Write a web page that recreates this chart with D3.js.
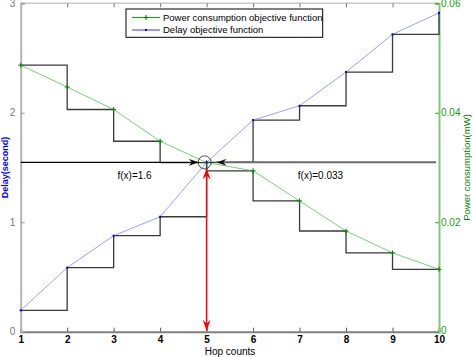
<!DOCTYPE html>
<html>
<head>
<meta charset="utf-8">
<script src="https://cdn.jsdelivr.net/npm/d3@7"></script>
<style>
  html, body { margin: 0; padding: 0; background: #fff; }
  svg text { font-family: "Liberation Sans", Arial, sans-serif; }
</style>
</head>
<body>
<div id="chart"></div>
<script>
// ── Data ────────────────────────────────────────────────────────
const hops        = [1, 2, 3, 4, 5, 6, 7, 8, 9, 10];
const delayVals   = [0.195, 0.585, 0.877, 1.05, 1.547, 1.933, 2.064, 2.372, 2.716, 2.913];   // second
const powerVals   = [0.0487, 0.0447, 0.0406, 0.0348, 0.0309, 0.0294, 0.0239, 0.0184, 0.0144, 0.0114]; // mW
// stair levels drawn under the power curve (one per hop, step-after)
const powerStair  = [0.0487, 0.0406, 0.0348, 0.0309, 0.0294, 0.0239, 0.0184, 0.0144, 0.0114, 0.0114];
const xTicks      = [1, 2, 3, 4, 5, 6, 7, 8, 9, 10];
const leftTicks   = [0, 1, 2, 3];
const rightTicks  = [0, 0.02, 0.04, 0.06];
const rightTickLabels = ["0", "0.02", "0.04", "0.06"];
const crossHop    = 5;
const crossDelay  = 1.547;
const annotLeft   = "f(x)=1.6";
const annotRight  = "f(x)=0.033";
const legendItems = ["Power consumption objective function", "Delay objective function"];

// ── Layout ──────────────────────────────────────────────────────
const W = 473, H = 357;
const margin = { top: 3.3, right: 34, bottom: 25.3, left: 20.7 },
      width  = W - margin.left - margin.right,
      height = H - margin.top - margin.bottom;

const svg = d3.select("#chart").append("svg")
  .attr("width", W).attr("height", H);

const defs = svg.append("defs");
function arrowMarker(id, color, w, h) {
  defs.append("marker")
    .attr("id", id)
    .attr("viewBox", `0 0 ${w} ${h}`)
    .attr("refX", w).attr("refY", h / 2)
    .attr("markerWidth", w).attr("markerHeight", h)
    .attr("markerUnits", "userSpaceOnUse")
    .attr("orient", "auto-start-reverse")
    .append("path")
      .attr("d", `M0,0 L${w},${h/2} L0,${h} L${w*0.35},${h/2} Z`)
      .attr("fill", color);
}
arrowMarker("arrBlack", "#000", 10, 7);
arrowMarker("arrGray", "#111", 10, 7);
arrowMarker("arrRed", "#f00", 11, 8);

const g = svg.append("g").attr("transform", `translate(${margin.left},${margin.top})`);

const x  = d3.scaleLinear().domain([1, 10]).range([0, width]);
const yL = d3.scaleLinear().domain([0, 3]).range([height, 0]);
const yR = d3.scaleLinear().domain([0, 0.06]).range([height, 0]);

// ── Frame & axes ────────────────────────────────────────────────
g.append("line").attr("x1", 0).attr("x2", width).attr("y1", 0).attr("y2", 0)
  .attr("stroke", "#c8c8c8").attr("stroke-width", 1.5);

const xBottom = g.append("g").attr("transform", `translate(0,${height})`)
  .call(d3.axisBottom(x).tickValues(xTicks).tickSize(-4).tickPadding(4.5).tickFormat(d3.format("d")));
xBottom.select(".domain").attr("stroke", "#808080").attr("stroke-width", 2);
xBottom.selectAll(".tick line").attr("stroke", "#555");
xBottom.selectAll(".tick text").attr("fill", "#000").style("font-size", "10px").style("font-weight", "bold");

const xTop = g.append("g")
  .call(d3.axisTop(x).tickValues(xTicks.slice(1, -1)).tickSize(-4).tickFormat(""));
xTop.select(".domain").remove();
xTop.selectAll(".tick line").attr("stroke", "#777");

const yLeft = g.append("g")
  .call(d3.axisLeft(yL).tickValues(leftTicks).tickSize(-4).tickPadding(5.5).tickFormat(d3.format("d")));
yLeft.select(".domain").attr("stroke", "#b4b4b4").attr("stroke-width", 2);
yLeft.selectAll(".tick line").attr("stroke", "#999");
yLeft.selectAll(".tick text").attr("fill", "#777").style("font-size", "10px");

const yRight = g.append("g").attr("transform", `translate(${width},0)`)
  .call(d3.axisRight(yR).tickValues(rightTicks).tickSize(-4).tickPadding(2).tickFormat((d, i) => rightTickLabels[i]));
yRight.select(".domain").attr("stroke", "#80c880").attr("stroke-width", 2);
yRight.selectAll(".tick line").attr("stroke", "#2a2");
yRight.selectAll(".tick text").attr("fill", "#1a9a1a").style("font-size", "10px");
// the bottom "0" sits just above the "10" hop label
yRight.selectAll(".tick text").filter(d => d === 0).attr("dy", "0.15em");

// ── Stairs ──────────────────────────────────────────────────────
const stair = d3.line().curve(d3.curveStepAfter);
g.append("path")
  .attr("d", stair(hops.map((h, i) => [x(h), yL(delayVals[i])])))
  .attr("fill", "none").attr("stroke", "#3a3a3a").attr("stroke-width", 1.3);
g.append("path")
  .attr("d", stair(hops.map((h, i) => [x(h), yR(powerStair[i])])))
  .attr("fill", "none").attr("stroke", "#3a3a3a").attr("stroke-width", 1.3);

// ── Objective curves ────────────────────────────────────────────
const line = d3.line();
g.append("path")
  .attr("d", line(hops.map((h, i) => [x(h), yR(powerVals[i])])))
  .attr("fill", "none").attr("stroke", "#5cbf5c").attr("stroke-width", 0.8);
g.append("path")
  .attr("d", line(hops.map((h, i) => [x(h), yL(delayVals[i])])))
  .attr("fill", "none").attr("stroke", "#8484ff").attr("stroke-width", 0.8);

g.selectAll(".pplus")
  .data(hops)
  .join("path")
    .attr("class", "pplus")
    .attr("d", (h, i) => {
      const cx = x(h), cy = yR(powerVals[i]);
      return `M${cx-2.5},${cy}H${cx+2.5}M${cx},${cy-2.5}V${cy+2.5}`;
    })
    .attr("stroke", "#008000").attr("stroke-width", 1);

g.selectAll(".ddot")
  .data(hops)
  .join("rect")
    .attr("class", "ddot")
    .attr("x", h => x(h) - 1).attr("y", (h, i) => yL(delayVals[i]) - 1)
    .attr("width", 2).attr("height", 2)
    .attr("fill", "#0000c0");

// ── Annotations ─────────────────────────────────────────────────
const cx0 = x(crossHop), cy0 = yL(crossDelay);
g.append("line")
  .attr("x1", 0).attr("x2", cx0 - 8).attr("y1", cy0).attr("y2", cy0)
  .attr("stroke", "#000").attr("stroke-width", 1.3)
  .attr("marker-end", "url(#arrBlack)");
g.append("line")
  .attr("x1", width - 3).attr("x2", cx0 + 10).attr("y1", cy0).attr("y2", cy0)
  .attr("stroke", "#6a6a6a").attr("stroke-width", 2)
  .attr("marker-end", "url(#arrGray)");
g.append("circle")
  .attr("cx", cx0 - 2).attr("cy", cy0).attr("r", 6.5)
  .attr("fill", "none").attr("stroke", "#222").attr("stroke-width", 0.8);
g.append("line")
  .attr("x1", cx0).attr("x2", cx0).attr("y1", cy0 + 6).attr("y2", height - 1)
  .attr("stroke", "#f00").attr("stroke-width", 1.5)
  .attr("marker-start", "url(#arrRed)").attr("marker-end", "url(#arrRed)");

g.append("text")
  .attr("x", x(3.45)).attr("y", cy0 + 17)
  .attr("text-anchor", "middle").style("font-size", "10px")
  .text(annotLeft);
g.append("text")
  .attr("x", x(7.45)).attr("y", cy0 + 17)
  .attr("text-anchor", "middle").style("font-size", "10px")
  .text(annotRight);

// ── Axis titles ─────────────────────────────────────────────────
svg.append("text")
  .attr("x", 230).attr("y", 355)
  .attr("text-anchor", "middle").style("font-size", "10px")
  .text("Hop counts");
svg.append("text")
  .attr("transform", `translate(8,${margin.top + yL(1.5)}) rotate(-90)`)
  .attr("text-anchor", "middle").style("font-size", "9px").style("font-weight", "bold")
  .attr("fill", "#0000ff")
  .text("Delay(second)");
svg.append("text")
  .attr("transform", `translate(470,${margin.top + yL(1.5)}) rotate(-90)`)
  .attr("text-anchor", "middle").style("font-size", "9.5px")
  .attr("fill", "#008000")
  .text("Power consumption(mW)");

// ── Legend ──────────────────────────────────────────────────────
const legend = svg.append("g").attr("transform", "translate(126,9)");
legend.append("rect")
  .attr("width", 196.7).attr("height", 28.3)
  .attr("fill", "#fff").attr("stroke", "#000").attr("stroke-width", 1);
const rowY = [8.5, 21];
legend.append("line").attr("x1", 6).attr("x2", 34).attr("y1", rowY[0]).attr("y2", rowY[0])
  .attr("stroke", "#2a9a2a").attr("stroke-width", 1.2);
legend.append("path").attr("d", `M17.5,${rowY[0]}h5M20,${rowY[0]-2.5}v5`)
  .attr("stroke", "#007000").attr("stroke-width", 1);
legend.append("line").attr("x1", 6).attr("x2", 34).attr("y1", rowY[1]).attr("y2", rowY[1])
  .attr("stroke", "#8080ff").attr("stroke-width", 1.6);
legend.append("rect").attr("x", 19).attr("y", rowY[1] - 1).attr("width", 2).attr("height", 2)
  .attr("fill", "#0000c0");
legendItems.forEach((t, i) => {
  legend.append("text")
    .attr("x", 37).attr("y", rowY[i]).attr("dy", "0.35em")
    .style("font-size", "9.5px")
    .text(t);
});
</script>
</body>
</html>
